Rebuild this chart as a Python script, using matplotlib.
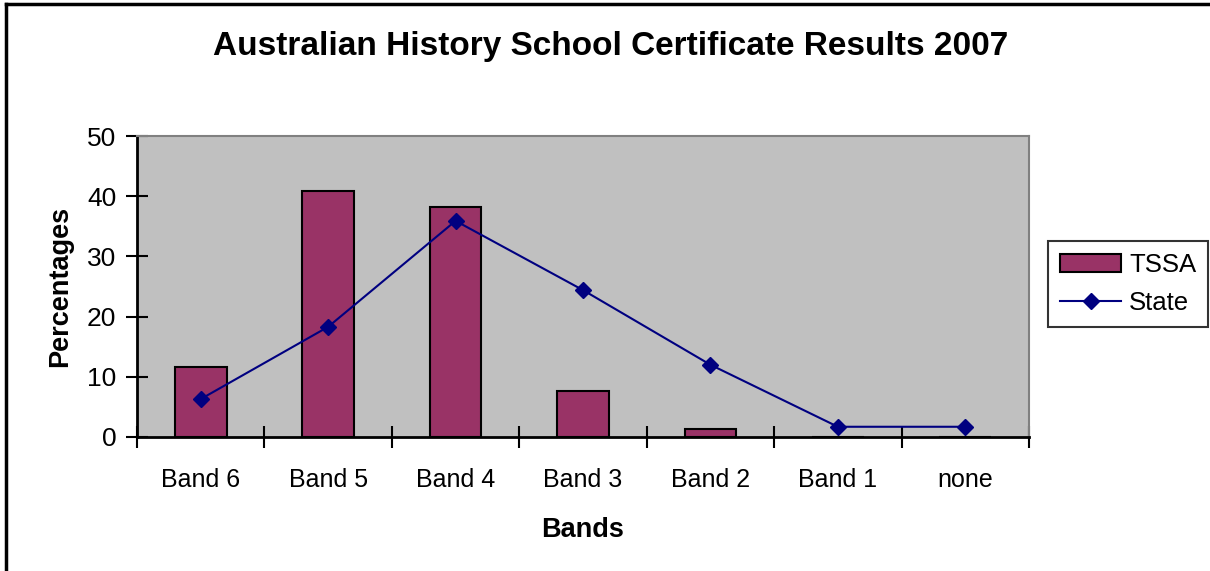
import numpy as np
import matplotlib
matplotlib.use("Agg")
import matplotlib.pyplot as plt
from matplotlib.lines import Line2D

plt.rcParams["font.family"] = ["Liberation Sans", "DejaVu Sans"]

bands = ["Band 6", "Band 5", "Band 4", "Band 3", "Band 2", "Band 1", "none"]
tssa = [11.7, 40.8, 38.2, 7.7, 1.4, 0.0, 0.0]
state = [6.3, 18.3, 35.9, 24.4, 12.0, 1.7, 1.7]

fig = plt.figure(figsize=(12.1, 5.71), dpi=100)
ax = fig.add_axes([137 / 1210, 1 - 437 / 571, 892 / 1210, 301 / 571])
ax.set_facecolor("#C0C0C0")

x = np.arange(len(bands))
bars = ax.bar(x, tssa, width=0.405, color="#993366", edgecolor="black", linewidth=1.5,
              label="TSSA", zorder=2)
line, = ax.plot(x, state, color="#000080", linewidth=1.5, marker="D", markersize=8.5,
                label="State", zorder=3)

ax.set_xlim(-0.5, len(bands) - 0.5)
ax.set_ylim(0, 50)
ax.set_yticks(range(0, 51, 10))
ax.set_xticks(x)
ax.set_xticklabels(bands)
ax.set_xticks(np.arange(-0.5, len(bands), 1.0), minor=True)
ax.tick_params(axis="x", which="major", length=0, labelsize=18, pad=22)
ax.tick_params(axis="x", which="minor", length=16, width=1.5, direction="inout")
ax.tick_params(axis="y", length=16, width=1.5, direction="inout", labelsize=19, pad=7)

for s in ["left", "bottom"]:
    ax.spines[s].set_color("black")
    ax.spines[s].set_linewidth(2)
for s in ["top", "right"]:
    ax.spines[s].set_color("#808080")
    ax.spines[s].set_linewidth(1.5)

ax.set_xlabel("Bands", fontsize=19.5, fontweight="bold", labelpad=18)
ax.set_ylabel("Percentages", fontsize=19.5, fontweight="bold", labelpad=10)

fig.suptitle("Australian History School Certificate Results 2007", x=611 / 1210,
             y=1 - 46 / 571, va="center", fontsize=24, fontweight="bold")

leg = fig.legend([bars, line], ["TSSA", "State"], loc="center",
                 bbox_to_anchor=(1128 / 1210, 1 - 284 / 571),
                 fontsize=18.5, frameon=True, fancybox=False, edgecolor="black",
                 handlelength=2.4, handletextpad=0.3, borderpad=0.45,
                 labelspacing=0.55)
leg.get_frame().set_linewidth(1.5)

fig.add_artist(Line2D([6 / 1210, 6 / 1210], [0, 1 - 4 / 571], color="black",
                      linewidth=2.5, transform=fig.transFigure))
fig.add_artist(Line2D([6 / 1210, 1], [1 - 4 / 571, 1 - 4 / 571], color="black",
                      linewidth=2.5, transform=fig.transFigure))

fig.savefig("out.png", dpi=100)
